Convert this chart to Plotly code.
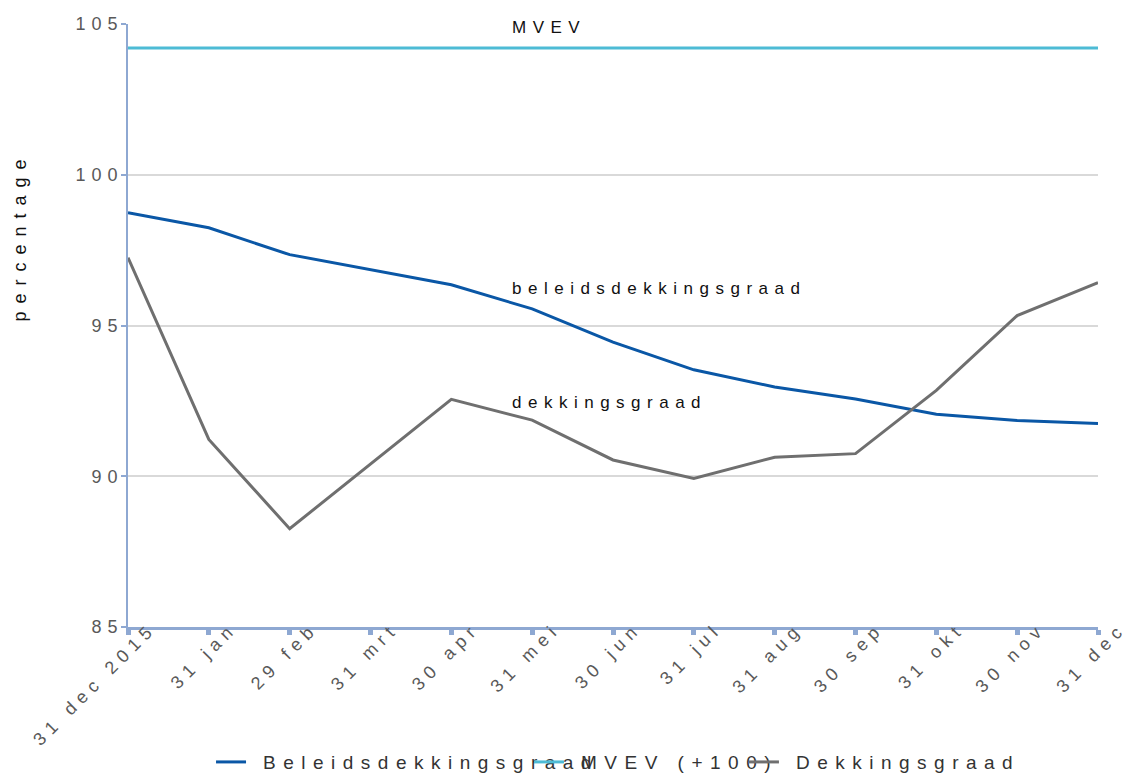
import plotly.graph_objects as go

dates = ["31 dec 2015", "31 jan", "29 feb", "31 mrt", "30 apr", "31 mei", "30 jun",
         "31 jul", "31 aug", "30 sep", "31 okt", "30 nov", "31 dec"]
beleidsdekkingsgraad = [98.74, 98.24, 97.35, 96.85, 96.35, 95.55, 94.45, 93.53, 92.96,
                        92.56, 92.06, 91.85, 91.75]
mvev = [104.2] * 13
dekkingsgraad = [97.25, 91.22, 88.26, 90.4, 92.55, 91.86, 90.54, 89.93, 90.63, 90.75,
                 92.85, 95.33, 96.42]

y_ticks = [85, 90, 95, 100, 105]

C_BEL = "#0A57A6"
C_MVEV = "#4DBBD5"
C_DEK = "#6F6F6F"
C_AXIS = "#8EA8D2"
FONT = "Arial, Liberation Sans, sans-serif"

fig = go.Figure()
fig.add_trace(go.Scatter(x=dates, y=beleidsdekkingsgraad, mode="lines",
                         name="Beleidsdekkingsgraad", line=dict(color=C_BEL, width=3),
                         legend="legend"))
fig.add_trace(go.Scatter(x=dates, y=mvev, mode="lines", name="MVEV (+100)",
                         line=dict(color=C_MVEV, width=3), legend="legend2"))
fig.add_trace(go.Scatter(x=dates, y=dekkingsgraad, mode="lines", name="Dekkingsgraad",
                         line=dict(color=C_DEK, width=3), legend="legend3"))

ann_font = dict(family=FONT, size=17, color="#111111")
for txt, yv in [("MVEV", 104.87), ("beleidsdekkingsgraad", 96.22), ("dekkingsgraad", 92.45)]:
    fig.add_annotation(x=4.73, y=yv, xref="x", yref="y", text=txt, showarrow=False,
                       xanchor="left", yanchor="middle", align="left", font=ann_font)

# y-axis title
fig.add_annotation(x=-0.111, y=0.648, xref="paper", yref="paper", text="percentage",
                   showarrow=False, textangle=-90, xanchor="center", yanchor="middle",
                   font=dict(family=FONT, size=18, color="#111111"), name="ytitle")

leg_common = dict(orientation="h", yanchor="middle", y=-0.224, xanchor="left",
                  bgcolor="rgba(0,0,0,0)", font=dict(family=FONT, size=19, color="#333333"))
fig.update_layout(
    width=1126, height=776,
    margin=dict(l=128, r=28, t=24, b=149, autoexpand=False),
    paper_bgcolor="white", plot_bgcolor="white",
    font=dict(family=FONT, color="#595959"),
    legend=dict(x=0.0856, **leg_common),
    legend2=dict(x=0.4134, **leg_common),
    legend3=dict(x=0.635, **leg_common),
    showlegend=True,
)
fig.update_xaxes(
    type="category", range=[0, 12], showgrid=False, automargin=False,
    showline=True, linecolor=C_AXIS, linewidth=3,
    ticks="outside", ticklen=5, tickwidth=5, tickcolor=C_AXIS,
    tickangle=-45, tickfont=dict(family=FONT, size=18, color="#595959"),
    ticklabelshift=23, ticklabelstandoff=-24,
)
fig.update_yaxes(
    range=[85, 105], tickvals=y_ticks, showgrid=True, gridcolor="#D9D9D9", gridwidth=1.5,
    showline=True, linecolor=C_AXIS, linewidth=1.5, automargin=False,
    ticks="outside", ticklen=5, tickwidth=1.5, tickcolor=C_AXIS,
    tickfont=dict(family=FONT, size=18, color="#595959"),
    ticklabelstandoff=-6,
    zeroline=False,
)

post = """
document.documentElement.style.margin='0';
document.body.style.margin='0';
document.body.style.padding='0';
var gd = document.getElementById('{plot_id}');
function spacing(){
  gd.querySelectorAll('.xtick text').forEach(function(t){t.style.letterSpacing='6px';});
  gd.querySelectorAll('.ytick text').forEach(function(t){t.style.letterSpacing='6px';});
  gd.querySelectorAll('text.legendtext, text.legend2text, text.legend3text').forEach(function(t){
    t.style.letterSpacing='7.5px';
    if (t.getAttribute('data-shifted') !== '1') {
      var x = parseFloat(t.getAttribute('x') || '0');
      t.setAttribute('x', x + 12);
      t.setAttribute('data-shifted', '1');
    }
  });
  gd.querySelectorAll('.annotation-text').forEach(function(t){t.style.letterSpacing='6.5px';});
  gd.querySelectorAll('.annotation').forEach(function(a){
    if (a.textContent === 'percentage') {
      a.querySelectorAll('text').forEach(function(t){t.style.letterSpacing='8px';});
    }
  });
  gd.querySelectorAll('.scrollbox, .legend, .legend2, .legend3').forEach(function(e){
    e.removeAttribute('clip-path'); e.style.clipPath='none';});
  gd.querySelectorAll('.legend rect.bg, .legend2 rect.bg, .legend3 rect.bg').forEach(function(e){e.style.fill='none';});
}
spacing();
var obs = new MutationObserver(function(){ spacing(); });
obs.observe(gd, {childList: true, subtree: true});
[0, 30, 100, 300, 800].forEach(function(d){ setTimeout(spacing, d); });
gd.on('plotly_afterplot', spacing);
"""

fig.write_html("out.html", post_script=post, config={"displayModeBar": False})
